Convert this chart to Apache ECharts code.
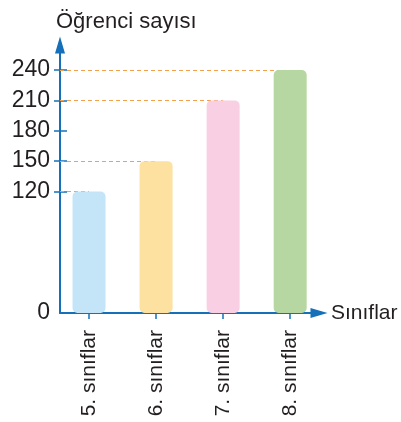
<!DOCTYPE html>
<html>
<head>
<meta charset="utf-8">
<script src="https://cdn.jsdelivr.net/npm/echarts@6/dist/echarts.min.js"></script>
<style>
  html, body { margin: 0; padding: 0; background: #fff; }
  #chart { width: 401px; height: 422px; }
</style>
</head>
<body>
<div id="chart"></div>
<script>
// data
const categories = ['5. sınıflar', '6. sınıflar', '7. sınıflar', '8. sınıflar'];
const studentCounts = [120, 150, 210, 240];
const barColors = ['#c3e5f7', '#fde1a0', '#f9cfe3', '#b6d7a1'];
const yTickLabels = [0, 120, 150, 180, 210, 240];

const axisBlue = '#1570b9';
const textColor = '#231f20';
const font = 'Liberation Sans, Arial, sans-serif';

// x axis is a value axis so bars can sit where they sit in the picture
const xMin = 0.567;
const xMax = 4.43;
const positions = categories.map((c, i) => i + 1);

const chart = echarts.init(document.getElementById('chart'), null, { renderer: 'canvas' });

const guideLines = studentCounts.map((v, i) => [
  { coord: [xMin, v] },
  { coord: [positions[i], v] }
]);

const option = {
  animation: false,
  title: {
    text: 'Öğrenci sayısı',
    left: 51,
    top: 6,
    textStyle: { fontFamily: font, fontSize: 22, fontWeight: 'normal', color: textColor }
  },
  grid: { left: 60, right: 82, top: 45, bottom: 109 },
  xAxis: [{
    type: 'value',
    min: xMin,
    max: xMax,
    name: 'Sınıflar',
    nameLocation: 'end',
    nameGap: 12,
    nameTextStyle: { fontFamily: font, fontSize: 21, color: textColor },
    axisLine: {
      show: true,
      symbol: ['none', 'triangle'],
      symbolSize: [10, 17],
      lineStyle: { color: axisBlue, width: 2 }
    },
    axisTick: { show: true, inside: false, length: 6, customValues: positions, lineStyle: { color: axisBlue, width: 1.5 } },
    axisLabel: {
      customValues: positions,
      rotate: 90,
      margin: 17,
      fontFamily: font,
      fontSize: 21,
      color: textColor,
      formatter: (v) => categories[Math.round(v) - 1] || ''
    },
    splitLine: { show: false }
  }, {
    type: 'value',
    min: xMin,
    max: xMax,
    position: 'bottom',
    axisLine: { show: false },
    axisTick: { show: true, inside: true, length: 6, customValues: positions, lineStyle: { color: axisBlue, width: 1.5 } },
    axisLabel: { show: false },
    splitLine: { show: false }
  }],
  yAxis: [{
    type: 'value',
    min: 0,
    max: 264.7,
    axisLine: {
      show: true,
      symbol: ['none', 'triangle'],
      symbolSize: [10, 17],
      lineStyle: { color: axisBlue, width: 2 }
    },
    axisTick: { show: true, inside: false, length: 6, customValues: yTickLabels.slice(1), lineStyle: { color: axisBlue, width: 1.5 } },
    axisLabel: {
      customValues: yTickLabels,
      margin: 10,
      fontFamily: font,
      fontSize: 23,
      color: textColor
    },
    splitLine: { show: false }
  }, {
    type: 'value',
    min: 0,
    max: 264.7,
    position: 'left',
    axisLine: { show: false },
    axisTick: { show: true, inside: true, length: 7, customValues: yTickLabels.slice(1), lineStyle: { color: axisBlue, width: 1.5 } },
    axisLabel: { show: false },
    splitLine: { show: false }
  }],
  series: [{
    type: 'bar',
    z: 3,
    barWidth: 33,
    data: studentCounts.map((v, i) => ({
      value: [positions[i], v],
      itemStyle: { color: barColors[i], borderRadius: 5 }
    })),
    markLine: {
      z: 1,
      silent: true,
      symbol: ['none', 'none'],
      label: { show: false },
      lineStyle: { color: '#f2a04c', width: 1, type: [4, 3] },
      data: guideLines
    }
  }]
};

chart.setOption(option);
</script>
</body>
</html>
